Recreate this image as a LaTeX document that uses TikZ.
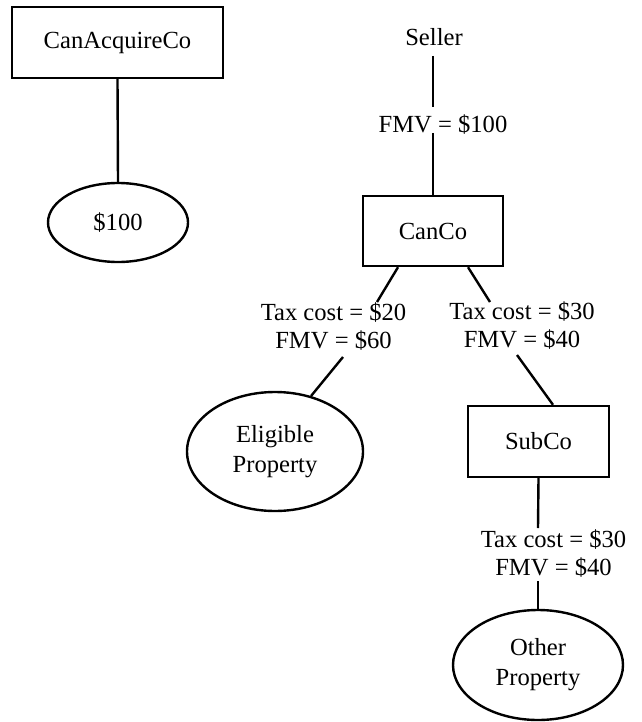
\documentclass[tikz,border=0pt]{standalone}
\usepackage{fontspec}
\setmainfont{Liberation Serif}
\usetikzlibrary{shapes.geometric}
\begin{document}
\begin{tikzpicture}[x=1pt,y=-1pt,
  every node/.style={font=\fontsize{24.6}{29}\selectfont, inner sep=0pt},
  line/.style={line width=2.4pt},
  boxnode/.style={draw, line width=2.4pt, rectangle, minimum width=#1, minimum height=71pt},
  ovalnode/.style={draw, line width=2.4pt, ellipse, align=center},
  lab/.style={align=center, font=\fontsize{24.6}{28}\selectfont}]
\useasboundingbox (0,0) rectangle (641,722);
% left group
\node[boxnode=211pt] (cac) at (117.5,42.5) {CanAcquireCo};
\node[ovalnode, minimum width=140pt, minimum height=79pt] (d100) at (118,222.5) {\$100};
\draw[line] (cac.south) -- (d100.north);
% right group
\node (seller) at (434,37) {Seller};
\node (fmv1) at (443,125) {FMV = \$100};
\node[boxnode=140pt, minimum height=70pt] (canco) at (433,231) {CanCo};
\coordinate (s1) at (433,56);
\coordinate (s2) at (433,107);
\coordinate (s3) at (433,133);
\draw[line] (s1) -- (s2);
\draw[line] (s3) -- (canco.north);
\node[lab] (lab1) at (333.5,327) {Tax cost = \$20\\FMV = \$60};
\node[lab] (lab2) at (522,326) {Tax cost = \$30\\FMV = \$40};
\coordinate (a1) at (377,302);
\coordinate (a2) at (490,302);
\draw[line] ([xshift=-35pt]canco.south) -- (a1);
\draw[line] ([xshift=35pt]canco.south) -- (a2);
\node[ovalnode, minimum width=176pt, minimum height=119pt] (elig) at (275,451.5) {Eligible\\[1pt]Property};
\node[boxnode=141pt] (subco) at (538.5,441.5) {SubCo};
\coordinate (b1) at (343,357);
\coordinate (b2) at (517,355);
\draw[line] (b1) -- (elig.57);
\draw[line] (b2) -- ([xshift=14.5pt]subco.north);
\node[lab] (lab3) at (553.5,554) {Tax cost = \$30\\FMV = \$40};
\node[ovalnode, minimum width=170pt, minimum height=110pt] (other) at (538,665) {Other\\[1pt]Property};
\coordinate (c1) at (538,528);
\coordinate (c2) at (538,581);
\draw[line] (subco.south) -- (c1);
\draw[line] (c2) -- (other.north);
\end{tikzpicture}
\end{document}
